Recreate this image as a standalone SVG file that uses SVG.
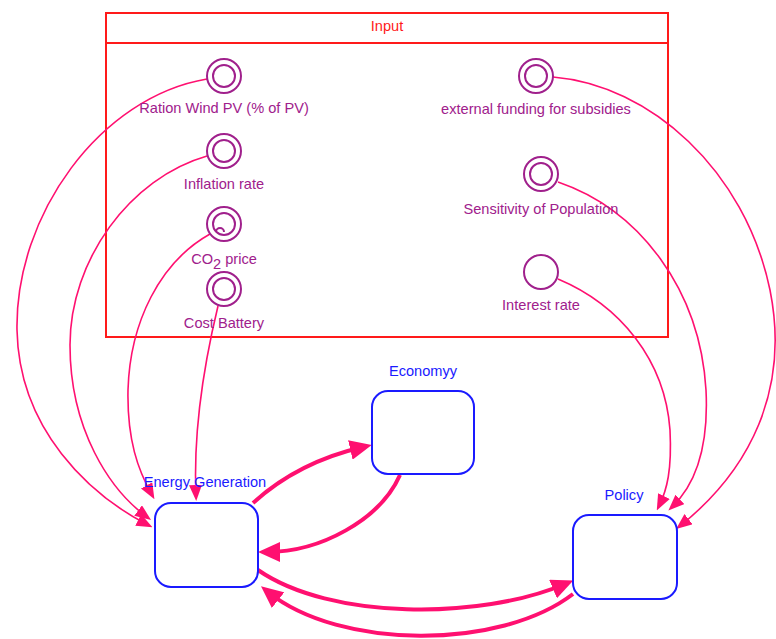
<svg xmlns="http://www.w3.org/2000/svg" width="776" height="639" viewBox="0 0 776 639">
<defs>
<style>
.frame{fill:none;stroke:#ff1a1a;stroke-width:2}
.ftext{font-family:"Liberation Sans",Arial,sans-serif;font-size:14.6px;fill:#ff1a1a;text-anchor:middle}
.var{fill:none;stroke:#a0208c;stroke-width:2}
.vtext{font-family:"Liberation Sans",Arial,sans-serif;font-size:14.6px;fill:#a0208c;text-anchor:middle}
.box{fill:#fff;stroke:#1a1aff;stroke-width:2}
.btext{font-family:"Liberation Sans",Arial,sans-serif;font-size:14.6px;fill:#1a1aff;text-anchor:middle}
.thin{fill:none;stroke:#ff1070;stroke-width:1.6;marker-end:url(#ah)}
.thick{fill:none;stroke:#ff1070;stroke-width:4;marker-end:url(#ahb)}
</style>
<marker id="ah" markerUnits="userSpaceOnUse" markerWidth="16" markerHeight="13" refX="11" refY="6.5" orient="auto">
<path d="M0,0 L16,6.5 L0,13 z" fill="#ff1070"/>
</marker>
<marker id="ahb" markerUnits="userSpaceOnUse" markerWidth="22" markerHeight="20" refX="13" refY="10" orient="auto">
<path d="M0,0 L22,10 L0,20 z" fill="#ff1070"/>
</marker>
</defs>
<rect width="776" height="639" fill="#fff"/>
<g id="input-frame">
<rect class="frame" x="106" y="13" width="562" height="324"/>
<line class="frame" x1="106" y1="43" x2="668" y2="43"/>
<text class="ftext" x="387" y="31">Input</text>
</g>
<g id="connectors">
<path class="thin" d="M207,79 C100,97 15,215 17,330 C19,430 90,495 148,525"/>
<path class="thin" d="M207,156 C130,178 70,260 70,345 C70,430 110,490 147,517"/>
<path class="thin" d="M210,234 C160,262 130,322 128,390 C127,440 138,470 152,495"/>
<path class="thin" d="M218,306 C205,360 193,430 196,496"/>
<path class="thin" d="M553,77 C650,85 745,170 770,290 C790,390 750,470 680,526"/>
<path class="thin" d="M558,182 C640,210 700,290 706,390 C709,450 694,486 672,507"/>
<path class="thin" d="M558,279 C620,305 665,360 670,430 C672,470 667,490 659,506"/>
<path class="thick" d="M253,503 Q298,462 363,447"/>
<path class="thick" d="M400,475 C380,520 320,552 267,552"/>
<path class="thick" d="M258,570 C330,620 480,620 565,584"/>
<path class="thick" d="M573,594 C500,650 340,650 268,592"/>
</g>
<g id="ration-wind-pv">
<circle class="var" cx="224" cy="76" r="17"/>
<circle class="var" cx="224" cy="76" r="11"/>
<text class="vtext" x="224" y="113">Ration Wind PV (% of PV)</text>
</g>
<g id="inflation-rate">
<circle class="var" cx="224" cy="151" r="17"/>
<circle class="var" cx="224" cy="151" r="11"/>
<text class="vtext" x="224" y="189">Inflation rate</text>
</g>
<g id="co2-price">
<circle class="var" cx="224" cy="224" r="17"/>
<circle class="var" cx="224" cy="224" r="11"/>
<path class="var" d="M216,232 A4,4 0 0 1 224,232"/>
<text class="vtext" x="224" y="264">CO<tspan dy="5">2</tspan><tspan dy="-5"> price</tspan></text>
</g>
<g id="cost-battery">
<circle class="var" cx="224" cy="289" r="17"/>
<circle class="var" cx="224" cy="289" r="11"/>
<text class="vtext" x="224" y="328">Cost Battery</text>
</g>
<g id="external-funding">
<circle class="var" cx="536" cy="76" r="17"/>
<circle class="var" cx="536" cy="76" r="11"/>
<text class="vtext" x="536" y="114">external funding for subsidies</text>
</g>
<g id="sensitivity-population">
<circle class="var" cx="541" cy="174" r="17"/>
<circle class="var" cx="541" cy="174" r="11"/>
<text class="vtext" x="541" y="214">Sensitivity of Population</text>
</g>
<g id="interest-rate">
<circle class="var" cx="541" cy="272" r="17"/>
<text class="vtext" x="541" y="310">Interest rate</text>
</g>
<g id="economyy">
<rect class="box" x="372" y="391" width="102" height="83" rx="16"/>
<text class="btext" x="423" y="376">Economyy</text>
</g>
<g id="energy-generation">
<rect class="box" x="155" y="503" width="103" height="84" rx="16"/>
<text class="btext" x="205" y="487">Energy Generation</text>
</g>
<g id="policy">
<rect class="box" x="573" y="515" width="104" height="84" rx="16"/>
<text class="btext" x="624" y="500">Policy</text>
</g>
</svg>
